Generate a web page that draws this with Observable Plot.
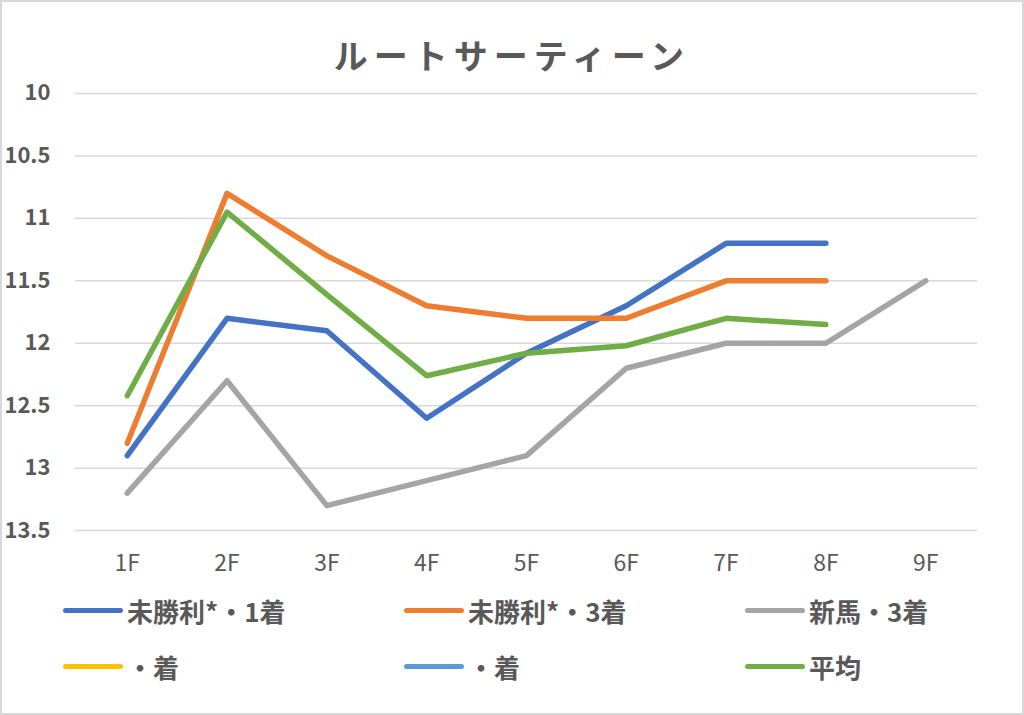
<!DOCTYPE html>
<html>
<head>
<meta charset="utf-8">
<script src="https://cdn.jsdelivr.net/npm/d3@7"></script>
<script src="https://cdn.jsdelivr.net/npm/@observablehq/plot@0.6"></script>
<style>
  html, body { margin: 0; padding: 0; background: #fff; }
  #wrap { position: relative; width: 1024px; height: 715px; box-sizing: border-box; border: 2px solid #d9d9d9; overflow: hidden; font-family: "Noto Sans CJK JP", "Noto Sans", sans-serif; }
  #title { position: absolute; left: 0; top: 29px; width: 1020px; text-align: center; font-size: 34px; font-weight: bold; color: #595959; letter-spacing: 6px; line-height: 48px; }
  #chart { position: absolute; left: -2px; top: 75px; }
  #legend { position: absolute; left: 61px; top: 580px; width: 1100px; }
  .row { display: flex; height: 56px; align-items: center; }
  .item { width: 341px; flex: 0 0 341px; display: flex; align-items: center; font-size: 26px; font-weight: bold; color: #595959; white-space: nowrap; }
  .sw { display: inline-block; width: 60px; height: 5px; border-radius: 3px; margin-right: 4px; }
</style>
</head>
<body>
<div id="wrap">
  <div id="title">ルートサーティーン</div>
  <div id="chart"></div>
  <div id="legend"></div>
</div>
<script>
const categories = ["1F", "2F", "3F", "4F", "5F", "6F", "7F", "8F", "9F"];
const seriesNames = ["未勝利*・1着", "未勝利*・3着", "新馬・3着", "・着", "・着 ", "平均"];
const seriesColors = ["#4472C4", "#ED7D31", "#A5A5A5", "#FFC000", "#5B9BD5", "#70AD47"];
const yTicks = [10, 10.5, 11, 11.5, 12, 12.5, 13, 13.5];

const s1 = [12.9, 11.8, 11.9, 12.6, 12.08, 11.7, 11.2, 11.2, null];
const s2 = [12.8, 10.8, 11.3, 11.7, 11.8, 11.8, 11.5, 11.5, null];
const s3 = [13.2, 12.3, 13.3, 13.1, 12.9, 12.2, 12.0, 12.0, 11.5];
const s4 = [null, null, null, null, null, null, null, null, null];
const s5 = [null, null, null, null, null, null, null, null, null];
const s6 = [12.42, 10.95, 11.61, 12.26, 12.08, 12.02, 11.8, 11.85, null];

const allSeries = [s1, s2, s3, s4, s5, s6];
const data = [];
allSeries.forEach((vals, si) => {
  vals.forEach((v, i) => {
    if (v != null) data.push({series: seriesNames[si], cat: categories[i], value: v});
  });
});

const chart = Plot.plot({
  width: 1024,
  height: 500,
  marginTop: 16,
  marginBottom: 46,
  marginLeft: 75,
  marginRight: 45,
  style: {fontFamily: '"Noto Sans CJK JP", "Noto Sans", sans-serif', fontSize: "22px", background: "transparent", overflow: "visible"},
  x: {type: "point", domain: categories, padding: 0.5, label: null},
  y: {domain: [10, 13.5], reverse: true, label: null},
  color: {domain: seriesNames, range: seriesColors},
  marks: [
    Plot.ruleY(yTicks, {stroke: "#d9d9d9", strokeWidth: 1.5}),
    Plot.axisY(yTicks, {tickSize: 0, tickPadding: 25, tickFormat: d => String(d), fill: "#595959"}),
    Plot.axisX({tickSize: 0, tickPadding: 24, fill: "#595959"}),
    ...seriesNames.map(name => Plot.line(data.filter(d => d.series === name), {
      x: "cat", y: "value", stroke: seriesColors[seriesNames.indexOf(name)],
      strokeWidth: 5.5, strokeLinecap: "round", strokeLinejoin: "round"
    }))
  ]
});
// font styling of tick labels
chart.querySelectorAll("text").forEach(t => {
  const s = t.textContent;
  if (categories.includes(s)) {
    t.style.fontSize = "23px";
  } else if (yTicks.map(String).includes(s)) {
    t.style.fontSize = "22px";
    t.style.fontWeight = "bold";
  }
});
document.getElementById("chart").appendChild(chart);

const legend = document.getElementById("legend");
[[0, 1, 2], [3, 4, 5]].forEach(idx => {
  const row = document.createElement("div");
  row.className = "row";
  idx.forEach(i => {
    const it = document.createElement("div");
    it.className = "item";
    const sw = document.createElement("span");
    sw.className = "sw";
    sw.style.background = seriesColors[i];
    const tx = document.createElement("span");
    tx.textContent = seriesNames[i].trim();
    it.appendChild(sw);
    it.appendChild(tx);
    row.appendChild(it);
  });
  legend.appendChild(row);
});
</script>
</body>
</html>
